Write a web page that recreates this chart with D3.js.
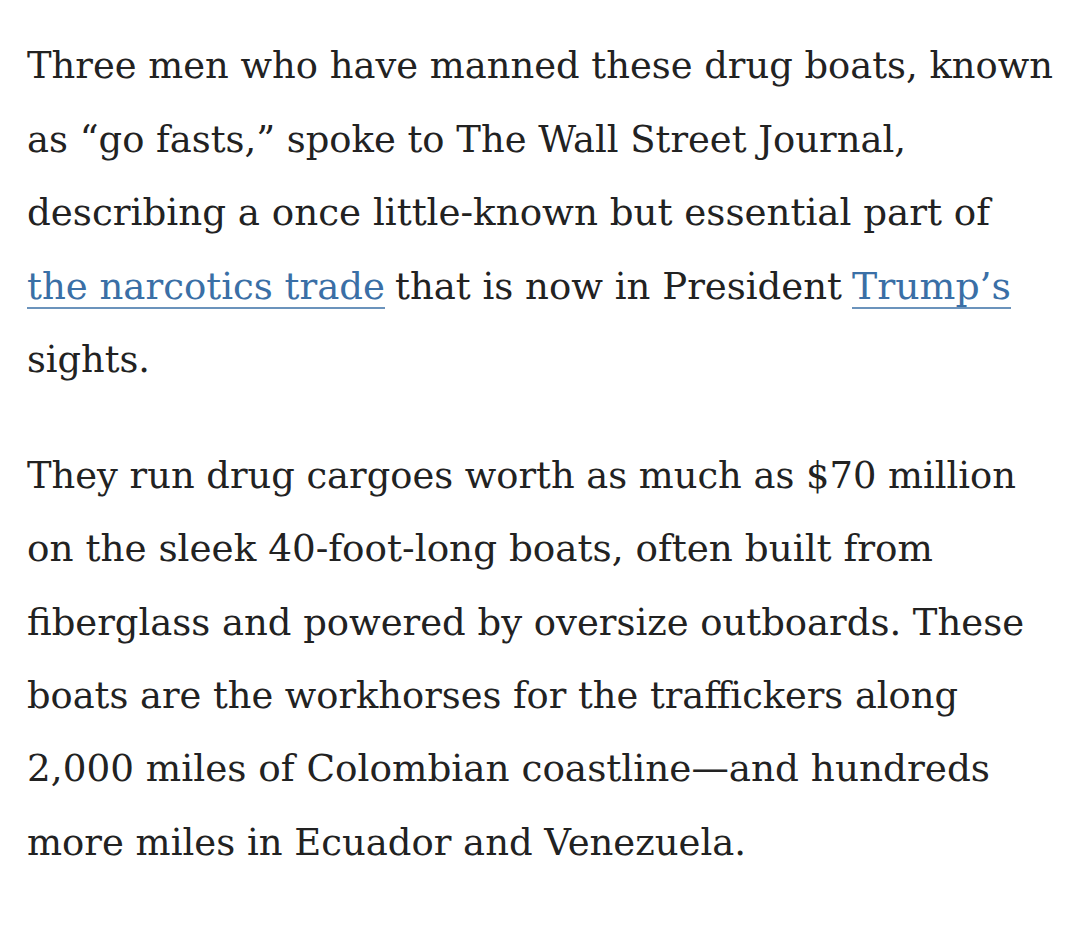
<!DOCTYPE html>
<html><head><meta charset="utf-8">
<script src="https://cdn.jsdelivr.net/npm/d3@7"></script>
<style>body{margin:0;background:#fff}</style></head>
<body><div id="page"></div>
<script>
// each segment: text, left, right, baseline, link flag
var segText = [
  "Three men who have manned these drug boats, known",
  "as \u201Cgo fasts,\u201D spoke to The Wall Street Journal,",
  "describing a once little-known but essential part of",
  "the narcotics trade", "that is now in President", "Trump\u2019s",
  "sights.",
  "They run drug cargoes worth as much as $70 million",
  "on the sleek 40-foot-long boats, often built from",
  "fiberglass and powered by oversize outboards. These",
  "boats are the workhorses for the traffickers along",
  "2,000 miles of Colombian coastline\u2014and hundreds",
  "more miles in Ecuador and Venezuela."
];
var segLeft  = [27, 27, 27, 27, 395, 852, 27, 27, 27, 27, 27, 27, 27];
var segRight = [1053, 906, 990, 385, 842, 1011, 150, 1016, 933, 1024, 958, 990, 746];
var segBase  = [78, 152, 225, 299, 299, 299, 372, 488, 561, 635, 708, 781, 855];
var segLink  = [0, 0, 0, 1, 0, 1, 0, 0, 0, 0, 0, 0, 0];

var svg = d3.select("#page").append("svg").attr("width", 1080).attr("height", 950);

var g = svg.selectAll("g.seg").data(segText).enter().append("g").attr("class", "seg");

g.append("text")
  .attr("x", function(d, i) { return segLeft[i]; })
  .attr("y", function(d, i) { return segBase[i]; })
  .attr("textLength", function(d, i) { return segRight[i] - segLeft[i]; })
  .attr("lengthAdjust", "spacingAndGlyphs")
  .attr("font-family", "DejaVu Serif, serif")
  .attr("font-size", 37)
  .attr("fill", function(d, i) { return segLink[i] ? "#3a6fa6" : "#222"; })
  .text(function(d) { return d; });

g.filter(function(d, i) { return segLink[i]; })
  .append("line")
  .attr("x1", function(d) { return segLeft[segText.indexOf(d)]; })
  .attr("x2", function(d) { return segRight[segText.indexOf(d)]; })
  .attr("y1", function(d) { return segBase[segText.indexOf(d)] + 9; })
  .attr("y2", function(d) { return segBase[segText.indexOf(d)] + 9; })
  .attr("stroke", "#3a6fa6").attr("stroke-width", 1.5);
</script></body></html>
